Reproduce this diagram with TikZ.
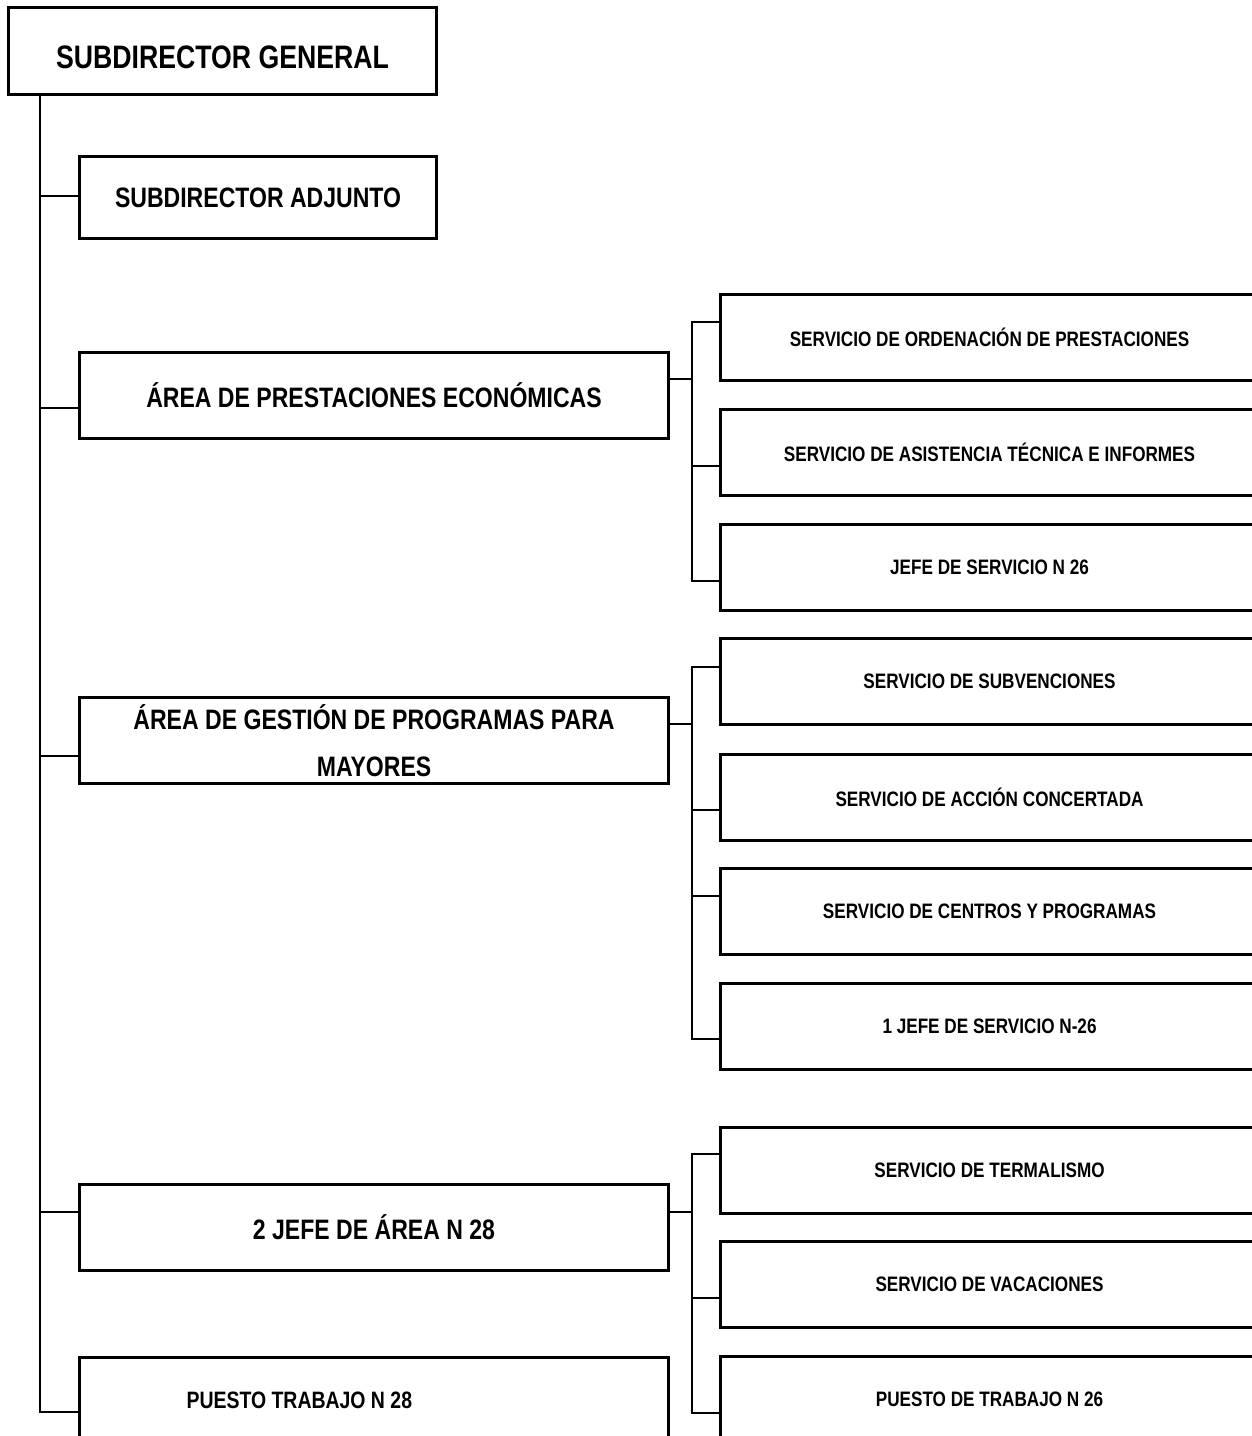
\documentclass[tikz,border=0pt]{standalone}
\usepackage{fontspec}
\setmainfont{Liberation Sans}[FakeStretch=0.82]
\usepackage{tikz}
\usetikzlibrary{calc}

\begin{document}
\begin{tikzpicture}
            [x=0.02cm, y=-0.02cm, line width=1.6pt,
            box/.style={rectangle, align=center, draw=black, line width=1.8pt, anchor=north west, inner sep=0pt},
            head/.style={box, font=\bfseries\fontsize{18.5}{21}\selectfont},
            area/.style={box, minimum width=11.78cm, minimum height=1.72cm, font=\bfseries\fontsize{16}{27}\selectfont},
            serv/.style={box, minimum width=10.76cm, minimum height=1.72cm, font=\bfseries\fontsize{11.9}{14}\selectfont}]

            \useasboundingbox (0,0) rectangle (1251,1436);

            \node[head,minimum width=8.56cm,minimum height=1.74cm,text height=0.69cm,text depth=0pt] (gen) at (7,6) {SUBDIRECTOR GENERAL};
            \node[area,minimum width=7.14cm,minimum height=1.64cm] (adj) at (78,155) {SUBDIRECTOR ADJUNTO};
            \node[area] (prest) at (78,351) {ÁREA DE PRESTACIONES ECONÓMICAS};
            \node[area] (gest) at (78,696) {ÁREA DE GESTIÓN DE PROGRAMAS PARA\\MAYORES};
            \node[area] (jarea) at (78,1183) {2 JEFE DE ÁREA N 28};
            \node[area,font=\bfseries\fontsize{13.5}{16}\selectfont,text width=7.5cm,align=flush left,inner xsep=2.14cm] (pt28) at (78,1356) {PUESTO TRABAJO N 28};

            \node[serv] (ord) at (719,293) {SERVICIO DE ORDENACIÓN DE PRESTACIONES};
            \node[serv] (asis) at (719,408) {SERVICIO DE ASISTENCIA TÉCNICA E INFORMES};
            \node[serv] (js26) at (719,523) {JEFE DE SERVICIO N 26};
            \node[serv] (subv) at (719,637) {SERVICIO DE SUBVENCIONES};
            \node[serv] (acc) at (719,753) {SERVICIO DE ACCIÓN CONCERTADA};
            \node[serv] (cent) at (719,867) {SERVICIO DE CENTROS Y PROGRAMAS};
            \node[serv] (js26b) at (719,982) {1 JEFE DE SERVICIO N-26};
            \node[serv] (term) at (719,1126) {SERVICIO DE TERMALISMO};
            \node[serv] (vac) at (719,1240) {SERVICIO DE VACACIONES};
            \node[serv] (pt26) at (719,1355) {PUESTO DE TRABAJO N 26};

            \coordinate (trunk) at ($(gen.south west)+(33,0)$);
            \coordinate (j1) at ($(prest.north east)+(22,28)$);
            \coordinate (j2) at ($(gest.north east)+(22,28)$);
            \coordinate (j3) at ($(jarea.north east)+(22,29)$);

            \draw ($(adj.north west)+(0,41)$) -| (trunk);
            \draw ($(prest.north west)+(0,57)$) -| (trunk);
            \draw ($(gest.north west)+(0,60)$) -| (trunk);
            \draw ($(jarea.north west)+(0,29)$) -| (trunk);
            \draw ($(pt28.north west)+(0,56)$) -| (trunk);

            \draw ($(prest.north east)+(0,28)$) -- (j1);
            \draw ($(ord.north west)+(0,29)$) -| (j1);
            \draw ($(asis.north west)+(0,58)$) -| (j1);
            \draw ($(js26.north west)+(0,58)$) -| (j1);

            \draw ($(gest.north east)+(0,28)$) -- (j2);
            \draw ($(subv.north west)+(0,30)$) -| (j2);
            \draw ($(acc.north west)+(0,57)$) -| (j2);
            \draw ($(cent.north west)+(0,29)$) -| (j2);
            \draw ($(js26b.north west)+(0,57)$) -| (j2);

            \draw ($(jarea.north east)+(0,29)$) -- (j3);
            \draw ($(term.north west)+(0,28)$) -| (j3);
            \draw ($(vac.north west)+(0,58)$) -| (j3);
            \draw ($(pt26.north west)+(0,58)$) -| (j3);

          \end{tikzpicture}
\end{document}
